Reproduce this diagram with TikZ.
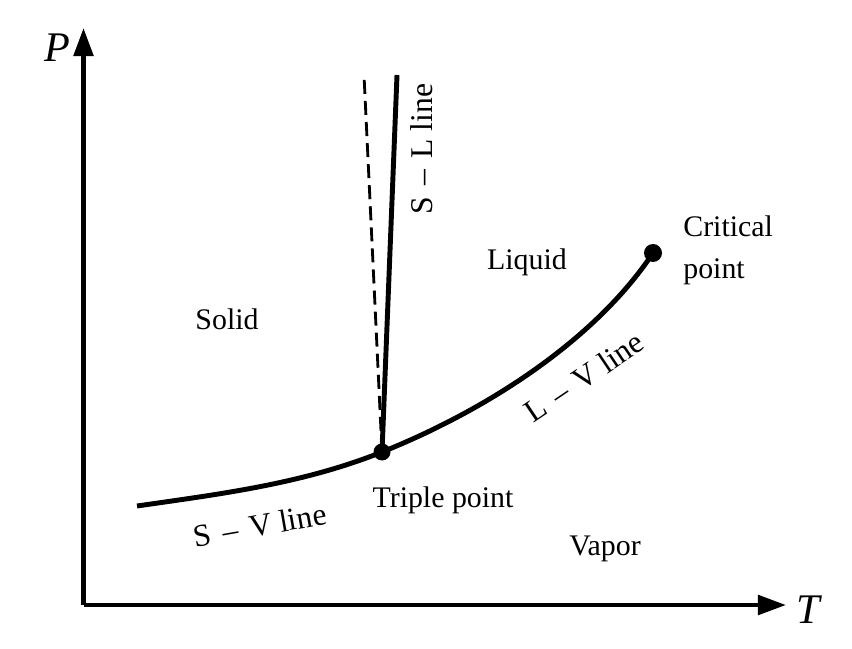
\documentclass[tikz,border=0pt]{standalone}
\usepackage{fontspec}
\setmainfont{Liberation Serif}
\usetikzlibrary{calc,arrows.meta,positioning}
\newcommand{\ddash}{\hspace{0.36em}--\hspace{0.36em}}

\begin{document}
\begin{tikzpicture}[
    lbl/.style={font=\fontsize{17}{24}\selectfont, inner sep=0pt},
    linelbl/.style={font=\fontsize{18}{24}\selectfont, inner sep=0pt},
    axlbl/.style={font=\fontsize{24}{28}\selectfont\itshape, inner sep=0pt},
    phaseline/.style={line width=2.8pt},
    ptdot/.style={fill=black}
  ]
        \useasboundingbox (0,0) rectangle (17.04,12.96);
        \coordinate (O) at (1.67,0.86);
        \coordinate (Ptip) at (1.67,12.4);
        \coordinate (Ttip) at (15.72,0.86);
        % Axes
        \draw[line width=2.6pt, -{Triangle[length=16pt,width=11pt]}] (O) -- (Ptip);
        \draw[line width=2.6pt, -{Triangle[length=16pt,width=11pt]}] (O) -- (Ttip);
        \node[axlbl] (plbl) at (1.14,12.0) {P};
        \node[axlbl] (tlbl) at (16.16,0.76) {T};
        % Special points
        \coordinate (svstart) at (2.74,2.84);
        \coordinate (triple) at (7.64,3.92);
        \coordinate (crit) at (13.06,7.9);
        \coordinate (sltop) at (7.94,11.46);
        \coordinate (dashtop) at (7.28,11.46);
        % S-V and L-V lines
        \draw[phaseline] (svstart) .. controls (4.4,3.08) and (6.04,3.28) .. (triple)
          .. controls (9.64,4.72) and (11.86,6.1) .. (crit);
        % S-L line (solid) and dashed one
        \draw[phaseline] (triple) -- (sltop);
        \draw[line width=1.6pt, dash pattern=on 8pt off 4pt] (triple) -- (dashtop);
        % Points
        \fill[ptdot] (triple) circle (0.17);
        \fill[ptdot] (crit) circle (0.18);
        % Region labels
        \node[lbl, anchor=base] (solid) at (4.54,6.36) {Solid};
        \node[lbl, anchor=base] (liquid) at (10.54,7.56) {Liquid};
        \node[lbl, anchor=base] (vapor) at (12.1,1.86) {Vapor};
        \node[lbl, anchor=base] (tplbl) at (8.86,2.82) {Triple point};
        \node[lbl, anchor=west, align=left] (cplbl) at (13.66,7.96) {Critical\\point};
        % Line labels
        \node[linelbl, rotate=10] (svlbl) at (5.2,2.46) {S\ddash V line};
        \node[linelbl, rotate=34] (lvlbl) at (11.68,5.42) {L\ddash V line};
        \node[linelbl, rotate=90] (sllbl) at (8.44,9.98) {S\ddash L line};
      \end{tikzpicture}
\end{document}
